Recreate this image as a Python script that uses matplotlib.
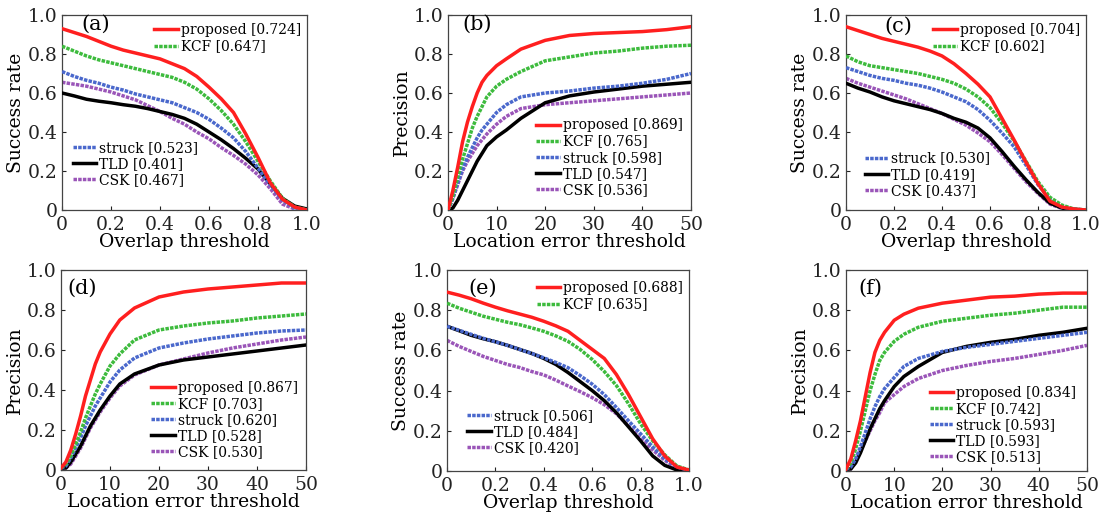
import numpy as np
import matplotlib
matplotlib.use('Agg')
import matplotlib.pyplot as plt

plt.rcParams['font.family'] = ['DejaVu Serif']
plt.rcParams['mathtext.fontset'] = 'dejavuserif'

#%% Data

methods = ['proposed', 'KCF', 'struck', 'TLD', 'CSK']

x_succ = [0, 0.05, 0.1, 0.15, 0.2, 0.25, 0.3, 0.35, 0.4, 0.45, 0.5,
          0.55, 0.6, 0.65, 0.7, 0.75, 0.8, 0.85, 0.9, 0.95, 1.0]
x_prec = [0, 1, 2, 3, 4, 5, 6, 7, 8, 10, 12, 15, 20, 25, 30, 35, 40, 45, 50]

# (a) success
a_proposed = [0.93, 0.91, 0.89, 0.865, 0.84, 0.82, 0.805, 0.79, 0.775, 0.75, 0.725, 0.685, 0.63, 0.57, 0.50, 0.39, 0.27, 0.14, 0.055, 0.015, 0.0]
a_kcf      = [0.84, 0.815, 0.79, 0.77, 0.755, 0.74, 0.725, 0.71, 0.695, 0.68, 0.655, 0.62, 0.57, 0.51, 0.44, 0.35, 0.25, 0.15, 0.06, 0.015, 0.0]
a_struck   = [0.71, 0.685, 0.665, 0.65, 0.63, 0.615, 0.595, 0.58, 0.565, 0.55, 0.525, 0.5, 0.465, 0.42, 0.37, 0.3, 0.215, 0.13, 0.05, 0.01, 0.0]
a_tld      = [0.6, 0.585, 0.568, 0.558, 0.55, 0.54, 0.532, 0.52, 0.505, 0.49, 0.47, 0.44, 0.4, 0.36, 0.315, 0.265, 0.21, 0.135, 0.06, 0.02, 0.005]
a_csk      = [0.655, 0.645, 0.635, 0.62, 0.605, 0.585, 0.565, 0.535, 0.505, 0.47, 0.44, 0.4, 0.365, 0.32, 0.28, 0.235, 0.18, 0.11, 0.03, 0.005, 0.0]
a_scores   = ['0.724', '0.647', '0.523', '0.401', '0.467']

# (b) precision
b_proposed = [0.0, 0.1, 0.22, 0.35, 0.45, 0.53, 0.6, 0.655, 0.69, 0.74, 0.775, 0.825, 0.87, 0.895, 0.905, 0.91, 0.915, 0.925, 0.94]
b_kcf      = [0.0, 0.07, 0.17, 0.26, 0.34, 0.42, 0.48, 0.53, 0.58, 0.635, 0.67, 0.71, 0.765, 0.785, 0.805, 0.815, 0.83, 0.84, 0.845]
b_struck   = [0.0, 0.06, 0.14, 0.21, 0.27, 0.32, 0.37, 0.41, 0.44, 0.5, 0.54, 0.58, 0.6, 0.61, 0.625, 0.635, 0.65, 0.67, 0.70]
b_tld      = [0.0, 0.01, 0.05, 0.1, 0.15, 0.2, 0.25, 0.29, 0.33, 0.375, 0.41, 0.47, 0.55, 0.585, 0.605, 0.62, 0.635, 0.645, 0.655]
b_csk      = [0.0, 0.06, 0.13, 0.2, 0.25, 0.29, 0.33, 0.36, 0.39, 0.44, 0.48, 0.52, 0.54, 0.55, 0.56, 0.57, 0.58, 0.59, 0.6]
b_scores   = ['0.869', '0.765', '0.598', '0.547', '0.536']

# (c) success
c_proposed = [0.94, 0.92, 0.9, 0.88, 0.865, 0.85, 0.835, 0.815, 0.79, 0.75, 0.70, 0.645, 0.58, 0.47, 0.36, 0.245, 0.135, 0.045, 0.015, 0.005, 0.0]
c_kcf      = [0.79, 0.76, 0.74, 0.73, 0.72, 0.71, 0.70, 0.685, 0.67, 0.65, 0.62, 0.58, 0.525, 0.445, 0.355, 0.25, 0.145, 0.065, 0.025, 0.005, 0.0]
c_struck   = [0.73, 0.71, 0.69, 0.675, 0.665, 0.65, 0.64, 0.625, 0.605, 0.58, 0.555, 0.515, 0.46, 0.395, 0.325, 0.23, 0.13, 0.055, 0.015, 0.005, 0.0]
c_tld      = [0.65, 0.625, 0.605, 0.58, 0.56, 0.545, 0.53, 0.515, 0.495, 0.47, 0.45, 0.42, 0.37, 0.3, 0.225, 0.155, 0.09, 0.035, 0.01, 0.003, 0.0]
c_csk      = [0.675, 0.65, 0.63, 0.61, 0.59, 0.57, 0.545, 0.52, 0.495, 0.465, 0.435, 0.395, 0.35, 0.285, 0.215, 0.145, 0.085, 0.03, 0.008, 0.002, 0.0]
c_scores   = ['0.704', '0.602', '0.530', '0.419', '0.437']

# (d) precision
d_proposed = [0.01, 0.04, 0.1, 0.18, 0.27, 0.37, 0.45, 0.53, 0.59, 0.68, 0.75, 0.81, 0.865, 0.89, 0.905, 0.915, 0.925, 0.935, 0.935]
d_kcf      = [0.01, 0.03, 0.07, 0.13, 0.19, 0.26, 0.32, 0.38, 0.43, 0.52, 0.58, 0.65, 0.70, 0.72, 0.735, 0.745, 0.76, 0.77, 0.78]
d_struck   = [0.01, 0.02, 0.06, 0.11, 0.16, 0.22, 0.27, 0.32, 0.36, 0.44, 0.5, 0.56, 0.61, 0.635, 0.655, 0.67, 0.685, 0.695, 0.70]
d_tld      = [0.01, 0.01, 0.04, 0.08, 0.12, 0.17, 0.22, 0.26, 0.3, 0.37, 0.43, 0.48, 0.525, 0.55, 0.565, 0.58, 0.595, 0.61, 0.625]
d_csk      = [0.01, 0.01, 0.03, 0.07, 0.11, 0.16, 0.21, 0.25, 0.29, 0.36, 0.42, 0.475, 0.525, 0.555, 0.585, 0.61, 0.63, 0.65, 0.665]
d_scores   = ['0.867', '0.703', '0.620', '0.528', '0.530']

# (e) success
e_proposed = [0.89, 0.875, 0.857, 0.835, 0.815, 0.797, 0.781, 0.765, 0.745, 0.722, 0.695, 0.65, 0.605, 0.56, 0.48, 0.38, 0.27, 0.16, 0.075, 0.02, 0.005]
e_kcf      = [0.835, 0.81, 0.79, 0.77, 0.755, 0.74, 0.728, 0.712, 0.695, 0.672, 0.645, 0.605, 0.555, 0.495, 0.425, 0.335, 0.235, 0.15, 0.08, 0.025, 0.005]
e_struck   = [0.72, 0.7, 0.68, 0.66, 0.643, 0.625, 0.605, 0.585, 0.563, 0.54, 0.514, 0.475, 0.432, 0.38, 0.316, 0.25, 0.185, 0.12, 0.06, 0.02, 0.003]
e_tld      = [0.72, 0.698, 0.675, 0.658, 0.643, 0.625, 0.605, 0.585, 0.56, 0.53, 0.49, 0.445, 0.4, 0.35, 0.29, 0.22, 0.15, 0.075, 0.028, 0.005, 0.0]
e_csk      = [0.65, 0.62, 0.595, 0.57, 0.55, 0.53, 0.515, 0.495, 0.478, 0.452, 0.423, 0.395, 0.365, 0.33, 0.285, 0.225, 0.16, 0.105, 0.053, 0.015, 0.002]
e_scores   = ['0.688', '0.635', '0.506', '0.484', '0.420']

# (f) precision
f_proposed = [0.01, 0.06, 0.15, 0.25, 0.37, 0.49, 0.59, 0.65, 0.69, 0.75, 0.78, 0.81, 0.835, 0.85, 0.865, 0.87, 0.88, 0.885, 0.885]
f_kcf      = [0.01, 0.04, 0.11, 0.2, 0.3, 0.4, 0.48, 0.55, 0.59, 0.645, 0.68, 0.715, 0.745, 0.76, 0.775, 0.785, 0.80, 0.815, 0.815]
f_struck   = [0.01, 0.02, 0.06, 0.12, 0.19, 0.26, 0.32, 0.37, 0.41, 0.465, 0.52, 0.56, 0.595, 0.615, 0.63, 0.645, 0.66, 0.675, 0.69]
f_tld      = [0.01, 0.01, 0.04, 0.09, 0.15, 0.21, 0.26, 0.31, 0.35, 0.42, 0.47, 0.52, 0.59, 0.62, 0.64, 0.655, 0.675, 0.69, 0.71]
f_csk      = [0.01, 0.01, 0.05, 0.1, 0.15, 0.2, 0.25, 0.29, 0.34, 0.38, 0.42, 0.46, 0.5, 0.525, 0.545, 0.56, 0.58, 0.60, 0.625]
f_scores   = ['0.834', '0.742', '0.593', '0.593', '0.513']

#%% Styles

colors = {'proposed': '#ff1f1f', 'KCF': '#3dbb3d', 'struck': '#4a68cc', 'TLD': '#000000', 'CSK': '#9a55b8'}
styles = {'proposed': '-', 'KCF': (0, (1.0, 0.35)), 'struck': (0, (1.0, 0.35)), 'TLD': '-', 'CSK': (0, (1.0, 0.35))}
zorder = {'proposed': 6, 'KCF': 5, 'struck': 4, 'TLD': 3, 'CSK': 2}

# tag, kind, series, scores, axes box [px], tag pos, legend anchors
panels = [
    ('(a)', 'succ', [a_proposed, a_kcf, a_struck, a_tld, a_csk], a_scores, [62, 307, 15, 210],
     (0.08, 0.95), [(1.01, 1.0), (0.01, 0.076)]),
    ('(b)', 'prec', [b_proposed, b_kcf, b_struck, b_tld, b_csk], b_scores, [448, 691, 15, 210],
     (0.058, 0.95), [(1.0, 0.025)]),
    ('(c)', 'succ', [c_proposed, c_kcf, c_struck, c_tld, c_csk], c_scores, [846, 1086, 15, 210],
     (0.16, 0.94), [(1.01, 1.0), (0.043, 0.02)]),
    ('(d)', 'prec', [d_proposed, d_kcf, d_struck, d_tld, d_csk], d_scores, [61, 306, 270, 470],
     (0.024, 0.91), [(1.0, 0.013)]),
    ('(e)', 'succ', [e_proposed, e_kcf, e_struck, e_tld, e_csk], e_scores, [447, 689, 270, 471],
     (0.087, 0.91), [(1.01, 0.985), (0.05, 0.038)]),
    ('(f)', 'prec', [f_proposed, f_kcf, f_struck, f_tld, f_csk], f_scores, [846, 1087, 270, 471],
     (0.05, 0.91), [(0.99, -0.008)]),
]

W, H = 1115., 521.
fig = plt.figure(figsize=(W/100., H/100.), dpi=100)

for tag, kind, series, scores, box, tagpos, anchors in panels:
    x0, x1, y0, y1 = box
    ax = fig.add_axes([x0/W, 1 - y1/H, (x1-x0)/W, (y1-y0)/H])
    xs = x_succ if kind == 'succ' else x_prec
    handles = []
    for name, ys, sc in zip(methods, series, scores):
        l, = ax.plot(xs, ys, color=colors[name], ls=styles[name], lw=2.5,
                     zorder=zorder[name], label='%s [%s]' % (name, sc))
        handles.append(l)

    ax.set_ylim(0, 1.0)
    ax.set_yticks([0, 0.2, 0.4, 0.6, 0.8, 1.0])
    ax.set_yticklabels(['0', '0.2', '0.4', '0.6', '0.8', '1.0'])
    if kind == 'succ':
        ax.set_xlim(0, 1.0)
        ax.set_xticks([0, 0.2, 0.4, 0.6, 0.8, 1.0])
        ax.set_xticklabels(['0', '0.2', '0.4', '0.6', '0.8', '1.0'])
        ax.set_xlabel('Overlap threshold', fontsize=13.5, labelpad=-1)
        ax.set_ylabel('Success rate', fontsize=13.5, labelpad=2)
    else:
        ax.set_xlim(0, 50)
        ax.set_xticks([0, 10, 20, 30, 40, 50])
        ax.set_xlabel('Location error threshold', fontsize=13.5, labelpad=-1)
        ax.set_ylabel('Precision', fontsize=13.5, labelpad=2)

    ax.tick_params(direction='in', length=3, width=0.8, labelsize=13.5, colors='#222222')
    ax.tick_params(axis='x', pad=4.5)
    ax.tick_params(axis='y', pad=3)
    for s in ax.spines.values():
        s.set_color('#444444')
        s.set_linewidth(0.9)

    ax.text(tagpos[0], tagpos[1], tag, transform=ax.transAxes, fontsize=15, va='center', ha='left')

    leg_kw = dict(frameon=False, fontsize=10, handlelength=1.7, handletextpad=0.2,
                  labelspacing=0.15, borderpad=0.1)
    if kind == 'succ':
        lg1 = ax.legend(handles[:2], [h.get_label() for h in handles[:2]],
                        loc='upper right', bbox_to_anchor=anchors[0], **leg_kw)
        ax.add_artist(lg1)
        ax.legend(handles[2:], [h.get_label() for h in handles[2:]],
                  loc='lower left', bbox_to_anchor=anchors[1], **leg_kw)
    else:
        ax.legend(handles, [h.get_label() for h in handles],
                  loc='lower right', bbox_to_anchor=anchors[0], **leg_kw)

plt.savefig('out.png', dpi=100)
